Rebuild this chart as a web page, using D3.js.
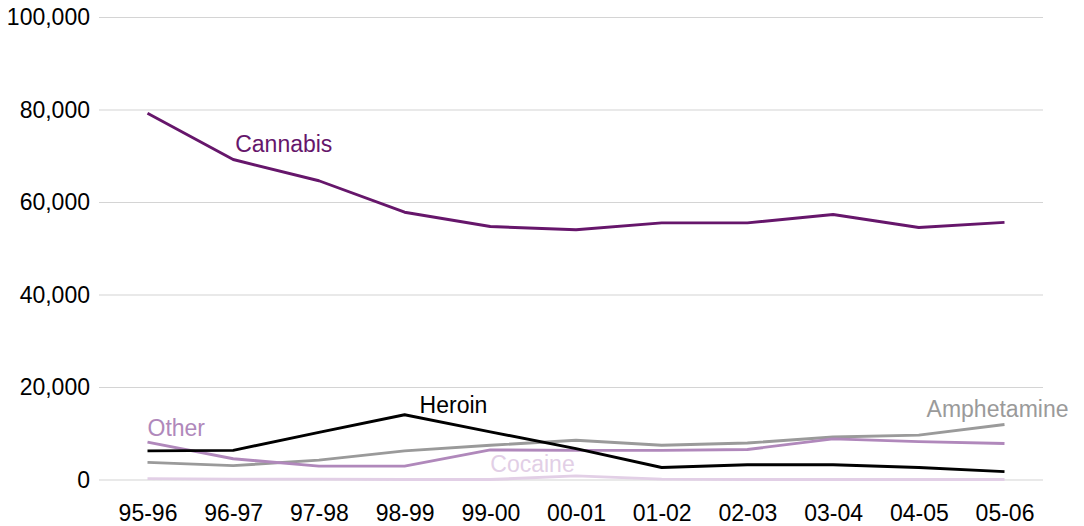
<!DOCTYPE html>
<html>
<head>
<meta charset="utf-8">
<script src="https://cdn.jsdelivr.net/npm/d3@7/dist/d3.min.js"></script>
<style>
  body { margin: 0; background: #fff; }
  text { font-family: "Liberation Sans", Arial, sans-serif; }
</style>
</head>
<body>
<div id="chart"></div>
<script>
const years = ["95-96", "96-97", "97-98", "98-99", "99-00", "00-01", "01-02", "02-03", "03-04", "04-05", "05-06"];
const yTicks = [0, 20000, 40000, 60000, 80000, 100000];

const cannabis = [79300, 69300, 64700, 57900, 54800, 54100, 55600, 55600, 57400, 54600, 55700];
const heroin = [6300, 6400, 10300, 14100, 10400, 6800, 2700, 3300, 3300, 2700, 1800];
const amphetamine = [3800, 3100, 4300, 6300, 7500, 8600, 7500, 8000, 9300, 9700, 12000];
const other = [8200, 4600, 3000, 3000, 6500, 6400, 6400, 6600, 8900, 8300, 7900];
const cocaine = [300, 200, 200, 100, 100, 900, 200, 100, 100, 100, 100];

const seriesNames = ["Amphetamine", "Other", "Cocaine", "Heroin", "Cannabis"];
const seriesValues = [amphetamine, other, cocaine, heroin, cannabis];
const seriesColors = ["#9a9a9a", "#b088bb", "#e2cfe6", "#000000", "#66166b"];

// label anchors in data space: [category, value, dx, anchor]
const labelPos = {
  Cannabis: ["96-97", 71000, 2, "start"],
  Heroin: ["98-99", 14400, 15, "start"],
  Other: ["95-96", 9500, 0, "start"],
  Cocaine: ["99-00", 1650, 0, "start"],
  Amphetamine: ["05-06", 13700, 64, "end"]
};

const fontSize = "23px";
const width = 1084, height = 526;
const svg = d3.select("#chart").append("svg")
  .attr("width", width)
  .attr("height", height);

const x = d3.scalePoint().domain(years).range([147.5, 1004.5]);
const y = d3.scaleLinear().domain([0, 100000]).range([480, 17.5]);

// gridlines
svg.append("g")
  .selectAll("line")
  .data(yTicks)
  .enter()
  .append("line")
  .attr("x1", 99)
  .attr("x2", 1043)
  .attr("y1", d => y(d))
  .attr("y2", d => y(d))
  .attr("stroke", "#d4d4d4")
  .attr("stroke-width", 1.2);

const yAxis = svg.append("g")
  .attr("transform", "translate(90,0)")
  .call(d3.axisLeft(y).tickValues(yTicks).tickSize(0).tickPadding(0).tickFormat(d3.format(",")));
yAxis.select(".domain").remove();
yAxis.selectAll("text")
  .style("font-size", fontSize)
  .attr("fill", "#000")
  .attr("font-family", "Liberation Sans, Arial, sans-serif");

const xAxis = svg.append("g")
  .attr("transform", "translate(0,480)")
  .call(d3.axisBottom(x).tickSize(0).tickPadding(25));
xAxis.select(".domain").remove();
xAxis.selectAll("text")
  .style("font-size", fontSize)
  .attr("fill", "#000")
  .attr("font-family", "Liberation Sans, Arial, sans-serif");

const line = d3.line()
  .x((d, i) => x(years[i]))
  .y(d => y(d));

seriesNames.forEach(function (name, k) {
  svg.append("path")
    .datum(seriesValues[k])
    .attr("fill", "none")
    .attr("stroke", seriesColors[k])
    .attr("stroke-width", 2.9)
    .attr("stroke-linejoin", "round")
    .attr("d", line);

  const p = labelPos[name];
  svg.append("text")
    .attr("x", x(p[0]) + p[2])
    .attr("y", y(p[1]))
    .attr("text-anchor", p[3])
    .attr("fill", seriesColors[k])
    .style("font-size", fontSize)
    .text(name);
});
</script>
</body>
</html>
